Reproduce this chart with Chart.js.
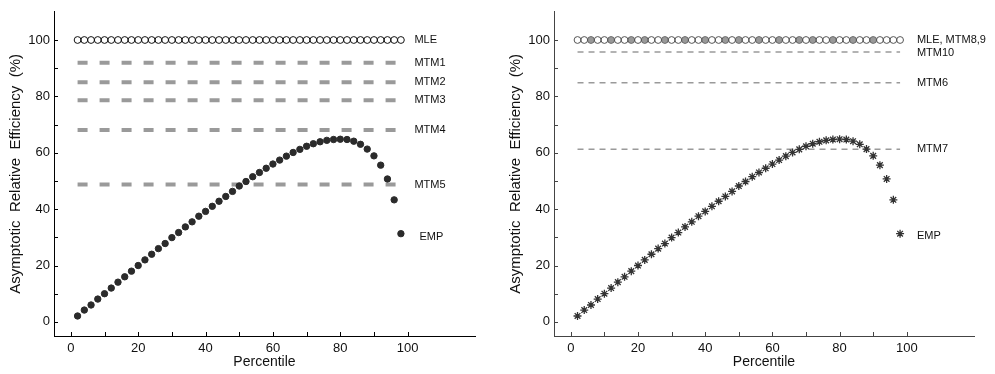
<!DOCTYPE html>
<html>
<head>
<meta charset="utf-8">
<script src="https://cdn.jsdelivr.net/npm/chart.js@4.4.1/dist/chart.umd.min.js"></script>
<style>
  body { margin: 0; background: #fff; width: 995px; height: 374px; position: relative; overflow: hidden; }
  canvas { position: absolute; top: 0; }
  #chart-left { left: 0; }
  #chart-right { left: 500px; }
</style>
</head>
<body>
<canvas id="chart-left" width="497" height="374"></canvas>
<canvas id="chart-right" width="495" height="374"></canvas>
<script>
// data
const percentiles = [2, 4, 6, 8, 10, 12, 14, 16, 18, 20, 22, 24, 26, 28, 30, 32, 34, 36, 38, 40, 42, 44, 46, 48,
  50, 52, 54, 56, 58, 60, 62, 64, 66, 68, 70, 72, 74, 76, 78, 80, 82, 84, 86, 88, 90, 92, 94, 96, 98];
const empEfficiency = [2.1, 4.2, 6.0, 8.1, 10.0, 12.0, 14.1, 16.0, 18.0, 20.0, 22.0, 24.0, 26.0, 27.8, 29.9, 31.7,
  33.7, 35.5, 37.5, 39.2, 41.0, 42.8, 44.5, 46.3, 48.2, 49.8, 51.5, 53.0, 54.5, 56.0, 57.4, 58.8, 60.1, 61.2,
  62.3, 63.2, 63.9, 64.4, 64.7, 64.8, 64.7, 64.1, 63.0, 61.3, 58.9, 55.6, 50.7, 43.3, 31.3];
const mleEfficiency = 100;
const mtm89Percentiles = [6, 12, 18, 22, 28, 34, 40, 46, 50, 56, 62, 68, 72, 78, 84, 90];

const leftLineNames = ["MTM1", "MTM2", "MTM3", "MTM4", "MTM5"];
const leftLineValues = [91.9, 85.0, 78.6, 68.1, 48.7];
const rightLineNames = ["MTM10", "MTM6", "MTM7"];
const rightLineValues = [95.7, 84.8, 61.2];
const lineSpan = [2, 98];

const xTickLabels = [0, 20, 40, 60, 80, 100];
const yTickLabels = [0, 20, 40, 60, 80, 100];
const tickMarks = [0, 10, 20, 30, 40, 50, 60, 70, 80, 90, 100];

Chart.defaults.font.family = '"Liberation Sans", Arial, Helvetica, sans-serif';
Chart.defaults.color = "#111";

const innerTicks = {
  id: "innerTicks",
  afterDraw(chart, args, opts) {
    const { ctx, chartArea, scales: { x, y } } = chart;
    ctx.save();
    ctx.strokeStyle = opts.axisColor;
    ctx.lineWidth = 1;
    ctx.beginPath();
    tickMarks.forEach(v => {
      const px = Math.round(x.getPixelForValue(v)) + 0.5;
      ctx.moveTo(px, chartArea.bottom);
      ctx.lineTo(px, chartArea.bottom - 4);
      const py = Math.round(y.getPixelForValue(v)) + 0.5;
      ctx.moveTo(chartArea.left, py);
      ctx.lineTo(chartArea.left + 4, py);
    });
    ctx.stroke();
    // series names at the right end of each curve
    ctx.fillStyle = "#111";
    ctx.font = '11px "Liberation Sans", Arial, sans-serif';
    ctx.textBaseline = "middle";
    opts.names.forEach((name, i) => {
      ctx.fillText(name, x.getPixelForValue(opts.nameX[i]), y.getPixelForValue(opts.nameY[i]));
    });
    ctx.restore();
  }
};

function flatLine(value, label, width, dash) {
  return {
    type: "line",
    label,
    data: lineSpan.map(p => ({ x: p, y: value })),
    borderColor: "#9a9a9a",
    borderWidth: width,
    borderDash: dash,
    pointRadius: 0,
    fill: false
  };
}

function makeChart(id, datasets, labels, axisColor) {
  return new Chart(document.getElementById(id), {
    type: "scatter",
    data: { datasets },
    options: {
      responsive: false,
      animation: false,
      devicePixelRatio: 1,
      layout: { padding: { top: 5, right: id === "chart-left" ? 22 : 21, bottom: 0, left: 0 } },
      plugins: {
        legend: { display: false },
        tooltip: { enabled: false },
        innerTicks: { axisColor, names: labels.names, nameX: labels.nameX, nameY: labels.nameY }
      },
      scales: {
        x: {
          type: "linear",
          min: -5,
          max: 120,
          afterBuildTicks: s => { s.ticks = xTickLabels.map(v => ({ value: v })); },
          afterFit: s => { s.height = 38; },
          grid: { display: false, drawTicks: false },
          border: { display: true, color: axisColor, width: 1 },
          ticks: { padding: 5, font: { size: 13 }, color: "#111" },
          title: { display: true, text: "Percentile", font: { size: 14 }, color: "#111", padding: { top: 0, bottom: 3 } }
        },
        y: {
          type: "linear",
          min: -5,
          max: 110,
          afterBuildTicks: s => { s.ticks = yTickLabels.map(v => ({ value: v })); },
          afterFit: s => { s.width = 54; },
          grid: { display: false, drawTicks: false },
          border: { display: true, color: axisColor, width: 1 },
          ticks: { padding: 4, font: { size: 13 }, color: "#111" },
          title: { display: true, text: "Asymptotic  Relative  Efficiency  (%)", font: { size: 15 }, color: "#111", padding: { top: 7, bottom: 0 } }
        }
      }
    },
    plugins: [innerTicks]
  });
}

const empPoints = percentiles.map((p, i) => ({ x: p, y: empEfficiency[i] }));
const mlePoints = percentiles.map(p => ({ x: p, y: mleEfficiency }));

// left panel
makeChart("chart-left", [
  { label: "EMP", data: empPoints, pointStyle: "circle", pointRadius: 3.2, backgroundColor: "#2b2b2b", borderColor: "#2b2b2b", borderWidth: 1 },
  { label: "MLE", data: mlePoints, pointStyle: "circle", pointRadius: 3.4, backgroundColor: "rgba(255,255,255,0)", borderColor: "#111", borderWidth: 1 },
  ...leftLineValues.map((v, i) => flatLine(v, leftLineNames[i], 4, [10, 12]))
], {
  names: ["MLE", ...leftLineNames, "EMP"],
  nameX: [102, 102, 102, 102, 102, 102, 103.5],
  nameY: [mleEfficiency, ...leftLineValues, 30]
}, "#000");

// right panel
makeChart("chart-right", [
  { label: "EMP", data: empPoints, pointStyle: "star", pointRadius: 4, backgroundColor: "#333", borderColor: "#333", borderWidth: 1.3 },
  { label: "MLE", data: mlePoints, pointStyle: "circle", pointRadius: 3.4, backgroundColor: "rgba(255,255,255,0)", borderColor: "#555", borderWidth: 1 },
  { label: "MTM8,9", data: mtm89Percentiles.map(p => ({ x: p, y: mleEfficiency })), pointStyle: "circle", pointRadius: 3, backgroundColor: "#999", borderColor: "#999", borderWidth: 0 },
  ...rightLineValues.map((v, i) => flatLine(v, rightLineNames[i], 1.5, [6, 5]))
], {
  names: ["MLE, MTM8,9", ...rightLineNames, "EMP"],
  nameX: [103, 103, 103, 103, 103],
  nameY: [mleEfficiency, rightLineValues[0] - 0.3, rightLineValues[1], rightLineValues[2], 30.5]
}, "#444");
</script>
</body>
</html>
